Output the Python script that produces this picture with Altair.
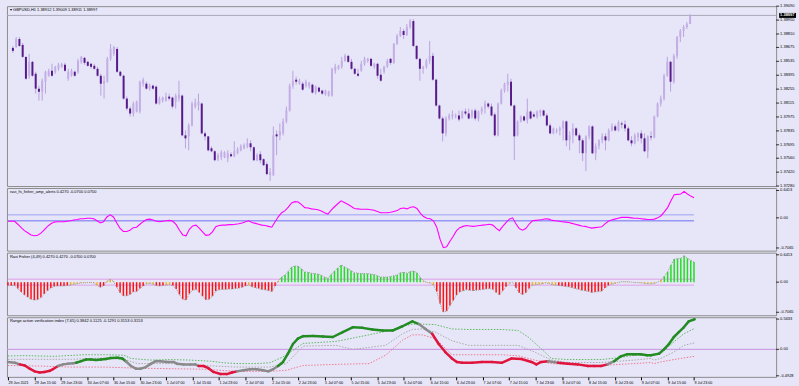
import altair as alt
import pandas as pd

# ---------------- data: GBPUSD H1 candles ----------------
o_ = [1.3867,1.3868,1.3876,1.3870,1.3858,1.3839,1.3853,1.3841,1.3826,1.3823,
1.3833,1.3839,1.3844,1.3843,1.3846,1.3848,1.3850,1.3836,1.3839,1.3843,
1.3843,1.3853,1.3857,1.3853,1.3851,1.3849,1.3846,1.3839,1.3831,1.3833,
1.3856,1.3861,1.3866,1.3843,1.3839,1.3816,1.3806,1.3801,1.3803,1.3803,
1.3831,1.3831,1.3826,1.3829,1.3828,1.3811,1.3814,1.3814,1.3818,1.3817,
1.3813,1.3816,1.3819,1.3779,1.3778,1.3789,1.3808,1.3809,1.3811,1.3781,
1.3778,1.3766,1.3763,1.3755,1.3757,1.3757,1.3756,1.3760,1.3758,1.3761,
1.3764,1.3766,1.3768,1.3771,1.3767,1.3754,1.3760,1.3755,1.3750,1.3739,
1.3739,1.3780,1.3779,1.3781,1.3793,1.3804,1.3829,1.3835,1.3831,1.3831,
1.3829,1.3828,1.3830,1.3822,1.3827,1.3824,1.3820,1.3819,1.3819,1.3844,
1.3846,1.3848,1.3854,1.3859,1.3853,1.3846,1.3841,1.3844,1.3851,1.3854,
1.3856,1.3848,1.3851,1.3840,1.3843,1.3848,1.3856,1.3852,1.3871,1.3879,
1.3884,1.3880,1.3888,1.3894,1.3869,1.3856,1.3846,1.3848,1.3854,1.3859,
1.3835,1.3809,1.3796,1.3781,1.3796,1.3798,1.3798,1.3799,1.3796,1.3803,
1.3801,1.3798,1.3804,1.3796,1.3803,1.3806,1.3811,1.3808,1.3800,1.3779,
1.3811,1.3824,1.3830,1.3833,1.3809,1.3779,1.3793,1.3798,1.3794,1.3803,
1.3800,1.3798,1.3802,1.3804,1.3799,1.3789,1.3781,1.3783,1.3784,1.3786,
1.3793,1.3774,1.3779,1.3786,1.3779,1.3774,1.3761,1.3778,1.3788,1.3761,
1.3768,1.3774,1.3778,1.3774,1.3784,1.3788,1.3784,1.3791,1.3790,1.3786,
1.3774,1.3771,1.3777,1.3781,1.3776,1.3763,1.3778,1.3777,1.3798,1.3811,
1.3816,1.3839,1.3853,1.3833,1.3859,1.3878,1.3884,1.3888,1.38912]
h_ = [1.3869,1.3878,1.3878,1.3872,1.3858,1.3861,1.3854,1.3843,1.3829,1.3836,
1.3844,1.3846,1.3851,1.3849,1.3852,1.3852,1.3852,1.3846,1.3846,1.3844,
1.3856,1.3859,1.3858,1.3854,1.3852,1.3851,1.3848,1.3841,1.3839,1.3858,
1.3871,1.3869,1.3868,1.3844,1.3840,1.3818,1.3808,1.3813,1.3814,1.3834,
1.3837,1.3833,1.3831,1.3830,1.3829,1.3818,1.3818,1.3822,1.3821,1.3818,
1.3821,1.3834,1.3820,1.3784,1.3791,1.3813,1.3816,1.3821,1.3812,1.3783,
1.3778,1.3768,1.3764,1.3761,1.3764,1.3763,1.3764,1.3762,1.3773,1.3767,
1.3770,1.3771,1.3776,1.3774,1.3768,1.3761,1.3763,1.3756,1.3752,1.3746,
1.3788,1.3784,1.3791,1.3796,1.3808,1.3831,1.3844,1.3838,1.3836,1.3833,
1.3835,1.3833,1.3831,1.3829,1.3828,1.3825,1.3825,1.3824,1.3847,1.3851,
1.3850,1.3858,1.3861,1.3860,1.3856,1.3847,1.3846,1.3854,1.3858,1.3857,
1.3857,1.3852,1.3852,1.3846,1.3849,1.3856,1.3857,1.3872,1.3881,1.3888,
1.3886,1.3891,1.3896,1.3896,1.3870,1.3857,1.3849,1.3856,1.3874,1.3862,
1.3836,1.3810,1.3798,1.3798,1.3801,1.3804,1.3801,1.3804,1.3804,1.3806,
1.3806,1.3805,1.3806,1.3804,1.3808,1.3814,1.3812,1.3811,1.3802,1.3812,
1.3826,1.3832,1.3841,1.3836,1.3810,1.3794,1.3799,1.3799,1.3816,1.3804,
1.3802,1.3804,1.3805,1.3805,1.3801,1.3791,1.3787,1.3786,1.3788,1.3794,
1.3794,1.3783,1.3791,1.3787,1.3781,1.3776,1.3779,1.3789,1.3789,1.3771,
1.3775,1.3781,1.3781,1.3786,1.3791,1.3790,1.3794,1.3793,1.3794,1.3788,
1.3778,1.3781,1.3782,1.3784,1.3781,1.3779,1.3783,1.3799,1.3812,1.3819,
1.3841,1.3858,1.3854,1.3861,1.3879,1.3886,1.3890,1.3893,1.39009]
l_ = [1.3862,1.3867,1.3868,1.3857,1.3835,1.3836,1.3838,1.3821,1.3814,1.3814,
1.3821,1.3838,1.3838,1.3841,1.3844,1.3847,1.3843,1.3834,1.3838,1.3838,
1.3841,1.3851,1.3850,1.3848,1.3846,1.3845,1.3838,1.3819,1.3816,1.3832,
1.3854,1.3859,1.3842,1.3838,1.3815,1.3804,1.3798,1.3798,1.3802,1.3801,
1.3828,1.3825,1.3824,1.3825,1.3810,1.3810,1.3812,1.3813,1.3814,1.3806,
1.3806,1.3813,1.3778,1.3766,1.3764,1.3788,1.3806,1.3804,1.3780,1.3774,
1.3763,1.3762,1.3753,1.3753,1.3754,1.3756,1.3752,1.3757,1.3757,1.3760,
1.3763,1.3765,1.3766,1.3763,1.3753,1.3753,1.3751,1.3748,1.3739,1.3733,
1.3738,1.3759,1.3774,1.3779,1.3791,1.3803,1.3826,1.3830,1.3830,1.3824,
1.3827,1.3826,1.3821,1.3820,1.3822,1.3820,1.3819,1.3818,1.3818,1.3841,
1.3845,1.3846,1.3853,1.3852,1.3845,1.3840,1.3838,1.3843,1.3849,1.3852,
1.3848,1.3846,1.3836,1.3833,1.3841,1.3847,1.3850,1.3851,1.3870,1.3878,
1.3876,1.3879,1.3886,1.3868,1.3855,1.3834,1.3841,1.3846,1.3851,1.3834,
1.3808,1.3795,1.3773,1.3778,1.3794,1.3795,1.3796,1.3793,1.3796,1.3799,
1.3795,1.3796,1.3794,1.3793,1.3800,1.3801,1.3806,1.3798,1.3778,1.3778,
1.3810,1.3822,1.3823,1.3808,1.3754,1.3778,1.3792,1.3793,1.3791,1.3795,
1.3797,1.3796,1.3798,1.3798,1.3788,1.3780,1.3780,1.3781,1.3779,1.3774,
1.3768,1.3764,1.3771,1.3778,1.3761,1.3753,1.3743,1.3775,1.3760,1.3754,
1.3765,1.3771,1.3764,1.3773,1.3783,1.3783,1.3783,1.3786,1.3783,1.3773,
1.3768,1.3770,1.3773,1.3771,1.3762,1.3756,1.3774,1.3776,1.3797,1.3808,
1.3814,1.3838,1.3823,1.3831,1.3856,1.3873,1.3878,1.3886,1.38911]
c_ = [1.3864,1.3876,1.3869,1.3858,1.3836,1.3853,1.3839,1.3826,1.3823,1.3834,
1.3843,1.3844,1.3839,1.3848,1.3850,1.3851,1.3844,1.3843,1.3844,1.3839,
1.3854,1.3858,1.3852,1.3849,1.3848,1.3846,1.3839,1.3831,1.3834,1.3856,
1.3866,1.3868,1.3843,1.3839,1.3816,1.3806,1.3801,1.3811,1.3813,1.3833,
1.3835,1.3826,1.3829,1.3826,1.3811,1.3816,1.3817,1.3818,1.3816,1.3808,
1.3819,1.3820,1.3779,1.3776,1.3789,1.3811,1.3812,1.3813,1.3781,1.3778,
1.3764,1.3763,1.3754,1.3759,1.3762,1.3762,1.3761,1.3758,1.3763,1.3765,
1.3768,1.3769,1.3771,1.3767,1.3754,1.3759,1.3754,1.3749,1.3740,1.3742,
1.3779,1.3778,1.3783,1.3793,1.3804,1.3829,1.3834,1.3833,1.3834,1.3825,
1.3833,1.3832,1.3822,1.3828,1.3823,1.3821,1.3824,1.3823,1.3846,1.3848,
1.3849,1.3854,1.3859,1.3853,1.3846,1.3841,1.3839,1.3851,1.3856,1.3856,
1.3849,1.3851,1.3839,1.3834,1.3848,1.3854,1.3852,1.3871,1.3879,1.3884,
1.3880,1.3888,1.3894,1.3869,1.3856,1.3846,1.3848,1.3854,1.3859,1.3835,
1.3809,1.3796,1.3781,1.3796,1.3799,1.3800,1.3799,1.3795,1.3803,1.3801,
1.3796,1.3804,1.3796,1.3803,1.3806,1.3811,1.3808,1.3799,1.3779,1.3811,
1.3824,1.3831,1.3833,1.3809,1.3778,1.3793,1.3798,1.3794,1.3803,1.3796,
1.3798,1.3803,1.3804,1.3799,1.3789,1.3781,1.3786,1.3784,1.3786,1.3793,
1.3774,1.3779,1.3786,1.3779,1.3774,1.3761,1.3778,1.3788,1.3761,1.3768,
1.3774,1.3778,1.3774,1.3784,1.3788,1.3784,1.3792,1.3790,1.3786,1.3774,
1.3771,1.3779,1.3781,1.3776,1.3763,1.3778,1.3777,1.3798,1.3811,1.3816,
1.3839,1.3853,1.3833,1.3859,1.3878,1.3884,1.3888,1.3891,1.38997]

fisher = [-0.08,-0.08,-0.08,-0.15,-0.23,-0.30,-0.35,-0.40,-0.42,-0.41,
-0.36,-0.28,-0.20,-0.14,-0.10,-0.09,-0.09,-0.09,-0.08,-0.07,
-0.05,-0.04,-0.02,-0.02,-0.01,-0.01,-0.02,-0.07,-0.12,-0.09,
0.02,0.07,0.02,-0.12,-0.25,-0.32,-0.32,-0.29,-0.23,-0.22,
-0.15,-0.09,-0.04,-0.03,-0.05,-0.08,-0.09,-0.08,-0.07,-0.06,
-0.08,-0.16,-0.29,-0.40,-0.42,-0.27,-0.19,-0.17,-0.24,-0.33,
-0.41,-0.40,-0.33,-0.21,-0.18,-0.17,-0.17,-0.16,-0.16,-0.15,
-0.14,-0.12,-0.09,-0.07,-0.11,-0.13,-0.15,-0.17,-0.18,-0.20,
-0.22,-0.09,0.03,0.12,0.17,0.25,0.35,0.38,0.37,0.31,
0.24,0.23,0.21,0.20,0.19,0.16,0.12,0.09,0.18,0.26,
0.33,0.40,0.36,0.32,0.27,0.22,0.21,0.20,0.20,0.20,
0.19,0.18,0.15,0.12,0.12,0.12,0.13,0.15,0.17,0.22,
0.23,0.21,0.25,0.26,0.22,0.11,0.03,-0.01,-0.02,-0.07,
-0.22,-0.50,-0.70,-0.68,-0.55,-0.43,-0.30,-0.23,-0.20,-0.18,
-0.19,-0.20,-0.19,-0.18,-0.17,-0.16,-0.15,-0.17,-0.24,-0.30,
-0.20,-0.11,-0.03,0.00,-0.14,-0.25,-0.29,-0.25,-0.15,-0.07,
-0.06,-0.05,-0.04,-0.02,-0.03,-0.06,-0.07,-0.08,-0.09,-0.10,
-0.11,-0.13,-0.15,-0.17,-0.19,-0.20,-0.22,-0.24,-0.23,-0.22,
-0.21,-0.14,-0.08,-0.05,-0.03,-0.01,0.01,0.01,0.01,0.00,
-0.01,-0.01,-0.02,-0.03,-0.04,-0.04,-0.03,0.00,0.05,0.14,
0.24,0.40,0.54,0.55,0.56,0.62,0.56,0.51,0.47]

# Range action verification index: thick line knots (bar index, value, state)
rav_x = [0,2.1,3.6,5.1,6.6,8.1,9.6,11.1,12.7,13.6,15.2,16.7,18.2,19.7,20.7,22.2,23.7,25.2,26.7,28.2,
29.7,31.2,33.2,34.7,35.7,37.3,38.8,40.3,41.8,43.3,44.8,46.3,48.3,50.3,51.3,53.3,55.3,56.8,57.8,59.3,
60.8,62.3,64.4,66.4,67.9,69.4,71.4,73.4,75.4,77.4,78.9,80.4,81.9,83.4,84.9,86.4,87.9,89.5,92.5,95.5,
98.5,101.5,104.5,107.5,110.5,113.6,116.6,119.6,122.6,124.6,126.6,128.6,130.6,132.6,134.6,136.1,137.7,140.7,143.7,146.7,
149.7,152.7,155.7,158.7,160.2,161.7,163.8,166.8,169.8,172.8,175.8,177.8,179.8,181.8,183.8,185.8,187.8,189.8,191.8,193.8,
194.9,197.4,198.9,200.4,201.9,203.4,204.9,206.4,208.2]
rav_v = [-0.235,-0.25,-0.28,-0.30,-0.36,-0.41,-0.43,-0.42,-0.40,-0.37,-0.31,-0.28,-0.27,-0.26,-0.25,-0.22,-0.19,-0.19,-0.20,-0.19,
-0.18,-0.16,-0.155,-0.17,-0.22,-0.31,-0.36,-0.36,-0.33,-0.27,-0.22,-0.22,-0.235,-0.235,-0.27,-0.28,-0.28,-0.28,-0.31,-0.31,
-0.35,-0.42,-0.46,-0.46,-0.43,-0.41,-0.39,-0.37,-0.37,-0.39,-0.41,-0.37,-0.31,-0.235,-0.08,0.10,0.20,0.246,0.25,0.24,
0.23,0.32,0.41,0.40,0.37,0.35,0.35,0.43,0.52,0.47,0.38,0.29,0.10,-0.05,-0.17,-0.235,-0.25,-0.25,-0.235,-0.235,
-0.25,-0.17,-0.18,-0.235,-0.28,-0.235,-0.22,-0.25,-0.27,-0.28,-0.31,-0.31,-0.31,-0.28,-0.22,-0.13,-0.09,-0.09,-0.09,-0.11,
-0.11,-0.08,0.00,0.10,0.23,0.32,0.41,0.52,0.56]
rav_state = ["n","n","r","r","r","r","r","r","r","r","n","n","n","n","g","g","g","g","g","g",
"g","g","g","g","n","n","n","n","n","n","n","n","n","n","n","n","n","n","r","r",
"r","r","r","r","r","n","n","n","n","n","n","n","g","g","g","g","g","g","g","g",
"g","g","g","g","g","g","g","g","g","n","n","r","r","r","r","r","r","r","r","r",
"r","r","r","r","r","r","n","r","r","r","r","r","r","n","g","g","g","g","g","g",
"g","g","g","g","g","g","g","g","g"]

up_x = [0,5.1,14.2,23.2,29.2,35.2,37.3,43.3,49.3,55.3,61.4,65.4,69.4,75.4,79.4,83.4,86.4,89.5,99.5,109.5,
115.6,119.6,122.6,125.6,129.6,134.6,139.7,149.7,154.7,157.7,161.7,164.8,169.8,179.8,184.8,189.8,194.9,195.9,197.9,201.9,
204.9,208.2]
up_v = [-0.124,-0.117,-0.13,-0.10,-0.10,-0.11,-0.17,-0.20,-0.19,-0.20,-0.22,-0.25,-0.265,-0.265,-0.25,-0.14,-0.02,0.11,0.148,0.27,
0.35,0.43,0.47,0.47,0.46,0.38,0.37,0.37,0.35,0.23,0.01,-0.17,-0.19,-0.19,-0.16,-0.11,-0.10,-0.11,-0.08,0.14,
0.29,0.39]
mid_x = [0,9.1,19.2,29.2,35.2,39.3,49.3,59.3,69.4,79.4,84.4,89.5,99.5,104.5,114.5,119.6,122.6,125.6,129.6,134.6,
139.7,154.7,159.7,164.8,169.8,179.8,189.8,194.9,195.9,197.9,201.9,204.9,208.2]
mid_v = [-0.185,-0.185,-0.185,-0.16,-0.185,-0.265,-0.265,-0.30,-0.33,-0.33,-0.265,0.06,0.074,0.0,0.074,0.29,0.37,0.38,0.32,0.16,
0.074,0.074,-0.05,-0.20,-0.245,-0.245,-0.20,-0.17,-0.20,-0.17,-0.05,0.074,0.12]
lo_x = [0,9.1,19.2,29.2,39.3,49.3,59.3,69.4,79.4,84.4,89.5,99.5,109.5,114.5,119.6,122.6,125.6,129.6,134.6,139.7,
149.7,154.7,159.7,164.8,169.8,179.8,189.8,194.9,195.9,197.9,201.9,204.9,208.2]
lo_v = [-0.30,-0.31,-0.33,-0.33,-0.35,-0.36,-0.37,-0.41,-0.41,-0.39,-0.30,-0.28,-0.265,-0.11,0.17,0.27,0.27,0.20,-0.10,-0.10,
-0.10,-0.12,-0.20,-0.265,-0.28,-0.30,-0.265,-0.245,-0.265,-0.235,-0.19,-0.16,-0.13]

date_labels = ["29 Jun 2021","29 Jun 15:00","29 Jun 23:00","30 Jun 07:00","30 Jun 15:00","30 Jun 23:00",
"1 Jul 07:00","1 Jul 15:00","1 Jul 23:00","2 Jul 07:00","2 Jul 15:00","2 Jul 23:00",
"5 Jul 07:00","5 Jul 15:00","5 Jul 23:00","6 Jul 07:00","6 Jul 15:00","6 Jul 23:00",
"7 Jul 07:00","7 Jul 15:00","7 Jul 23:00","8 Jul 07:00","8 Jul 15:00","8 Jul 23:00",
"9 Jul 07:00","9 Jul 15:00","9 Jul 23:00"]
price_ticks = [1.39090,1.38950,1.38810,1.38675,1.38535,1.38395,1.38255,1.38115,1.37975,1.37835,1.37695,1.37560,1.37420,1.37280]
fisher_ticks = [0.6413, 0.0, -0.7065]
rav_ticks = [0.5633, 0.0, -0.4928]
bid = 1.38997
fisher_level = 0.07
title_main = "\u25be GBPUSD,H1  1.38912 1.39009 1.38911 1.38997"
title_1 = "ravi_fs_fisher_amp_alerts 0.4270 -0.0700 0.0700"
title_2 = "Ravi Fisher (4,49) 0.4270 0.4270 -0.0700 0.0700"
title_3 = "Range action verification index (7,65) 0.3842 0.1125 -0.1291 0.3153 0.3153"

# ---------------- frames ----------------
N = len(c_)
candles = pd.DataFrame({"i": range(N), "o": o_, "h": h_, "l": l_, "c": c_})
candles["bull"] = candles["c"] >= candles["o"]
fdf = pd.DataFrame({"i": range(N), "v": fisher})
segs = []
for k in range(len(rav_x) - 1):
    segs.append({"seg": k, "x": rav_x[k], "v": rav_v[k], "s": rav_state[k]})
    segs.append({"seg": k, "x": rav_x[k + 1], "v": rav_v[k + 1], "s": rav_state[k]})
segdf = pd.DataFrame(segs)
dots = pd.concat([
    pd.DataFrame({"x": up_x, "v": up_v, "k": "up"}),
    pd.DataFrame({"x": mid_x, "v": mid_v, "k": "mid"}),
    pd.DataFrame({"x": lo_x, "v": lo_v, "k": "lo"}),
])

W = 774
FONT = "Liberation Sans"
FS = 4
FSX = 3.7
BG = "#E6E6F8"
xs = alt.Scale(domain=[-0.3, 232.9], nice=False, zero=False)
X = alt.X("i:Q", scale=xs, axis=None)
HIDDEN_Y = alt.Axis(orient="right", labels=False, ticks=False, domain=False, grid=False, title=None)


def ind_fmt(v):
    return "0.00" if v == 0 else "%.4f" % v


def right_axis(vals, scale, fmt):
    d = pd.DataFrame({"v": vals, "t": [fmt(v) for v in vals]})
    ticks = alt.Chart(d).mark_rule(color="#000000", strokeWidth=0.8, clip=False).encode(
        y=alt.Y("v:Q", scale=scale, axis=HIDDEN_Y), x=alt.value(W), x2=alt.value(W + 3))
    labels = alt.Chart(d).mark_text(align="left", baseline="middle", fontSize=FS, font=FONT,
                                    color="#000000", clip=False).encode(
        y=alt.Y("v:Q", scale=scale, axis=HIDDEN_Y), x=alt.value(W + 4), text="t:N")
    return [ticks, labels]


def title_text(t):
    return alt.Chart(pd.DataFrame({"t": [t]})).mark_text(
        align="left", baseline="middle", fontSize=FS, font=FONT, color="#000000"
    ).encode(x=alt.value(3), y=alt.value(4), text="t:N")


# main panel
ys = alt.Scale(domain=[1.3728, 1.3909], nice=False, zero=False)
base = alt.Chart(candles)
wicks = base.mark_rule(strokeWidth=1, color="#B9A2DE").encode(
    x=X, y=alt.Y("l:Q", scale=ys, axis=HIDDEN_Y), y2="h:Q")
bodies = base.mark_bar(size=2).encode(
    x=X, y=alt.Y("o:Q", scale=ys, axis=HIDDEN_Y), y2="c:Q",
    color=alt.condition("datum.bull", alt.value("#C3AEE6"), alt.value("#561A8A")),
)
biddf = pd.DataFrame({"b": [bid], "t": ["%.5f" % bid]})
bidline = alt.Chart(biddf).mark_rule(color="#A8A8B8", strokeWidth=1).encode(
    y=alt.Y("b:Q", scale=ys, axis=HIDDEN_Y), x=alt.value(0), x2=alt.value(W))
bidbg = alt.Chart(biddf).mark_rule(color="#000000", strokeWidth=5, clip=False).encode(
    y=alt.Y("b:Q", scale=ys, axis=HIDDEN_Y), x=alt.value(W + 3), x2=alt.value(W + 20))
bidtxt = alt.Chart(biddf).mark_text(
    align="left", baseline="middle", fontSize=FS, font=FONT, color="#FFFFFF", fontWeight="bold",
    clip=False).encode(y=alt.Y("b:Q", scale=ys, axis=HIDDEN_Y), x=alt.value(W + 4), text="t:N")
main = alt.layer(bidline, wicks, bodies, *right_axis(price_ticks, ys, lambda v: "%.5f" % v),
                 bidbg, bidtxt, title_text(title_main)).properties(width=W, height=181)

# indicator 1
ys1 = alt.Scale(domain=[-0.769, 0.699], nice=False, zero=False)
lv = pd.DataFrame({"lv": [fisher_level, -fisher_level], "c": ["u", "d"], "x0": [0, 0], "x1": [N - 1, N - 1]})
lines1 = alt.Chart(lv).mark_rule(strokeWidth=1).encode(
    y=alt.Y("lv:Q", scale=ys1, axis=HIDDEN_Y), x=alt.X("x0:Q", scale=xs, axis=None), x2="x1:Q",
    color=alt.Color("c:N", scale=alt.Scale(domain=["u", "d"], range=["#A0A0F4", "#6E6EF2"]), legend=None))
fline = alt.Chart(fdf).mark_line(color="#FF00FF", strokeWidth=1.1).encode(
    x=X, y=alt.Y("v:Q", scale=ys1, axis=HIDDEN_Y))
ind1 = alt.layer(lines1, fline, *right_axis(fisher_ticks, ys1, ind_fmt),
                 title_text(title_1)).properties(width=W, height=63)

# indicator 2
ys2 = alt.Scale(domain=[-0.776, 0.692], nice=False, zero=False)
lines2 = alt.Chart(lv).mark_rule(strokeWidth=1, color="#E0A0E8").encode(
    y=alt.Y("lv:Q", scale=ys2, axis=HIDDEN_Y), x=alt.X("x0:Q", scale=xs, axis=None), x2="x1:Q")
hist = alt.Chart(fdf).transform_calculate(
    k="datum.v > 0.07 ? 'up' : (datum.v < -0.07 ? 'dn' : 'mid')", z="0"
).mark_rule(strokeWidth=1.5).encode(
    x=X, y=alt.Y("v:Q", scale=ys2, axis=HIDDEN_Y), y2="z:Q",
    color=alt.Color("k:N", scale=alt.Scale(domain=["up", "dn", "mid"], range=["#22DD22", "#FF1010", "#E8B020"]), legend=None))
outline = alt.Chart(fdf).mark_line(color="#9A9A9A", strokeWidth=1, strokeDash=[1, 1]).encode(
    x=X, y=alt.Y("v:Q", scale=ys2, axis=HIDDEN_Y))
ind2 = alt.layer(lines2, hist, outline, *right_axis(fisher_ticks, ys2, ind_fmt),
                 title_text(title_2)).properties(width=W, height=63)

# indicator 3
ys3 = alt.Scale(domain=[-0.512, 0.598], nice=False, zero=False)
zero3 = alt.Chart(pd.DataFrame({"z": [0.0]})).mark_rule(color="#C890E0", strokeWidth=1).encode(
    y=alt.Y("z:Q", scale=ys3, axis=HIDDEN_Y), x=alt.value(0), x2=alt.value(W))
xaxis = alt.Axis(values=list(range(0, 209, 8)),
                 labelExpr="%s[round(datum.value / 8)]" % str(date_labels), labelFontSize=FSX, labelFont=FONT,
                 labelColor="#000000", labelAlign="left", tickSize=3, tickColor="#000000", domain=False,
                 grid=False, title=None, labelPadding=1, labelOverlap=False, labelFlush=False)
dotl = alt.Chart(dots).mark_line(strokeWidth=1, strokeDash=[1.5, 1.5]).encode(
    x=alt.X("x:Q", scale=xs, axis=xaxis),
    y=alt.Y("v:Q", scale=ys3, axis=HIDDEN_Y),
    detail="k:N",
    color=alt.Color("k:N", scale=alt.Scale(domain=["up", "mid", "lo"], range=["#5CB85C", "#A8A8A8", "#F07890"]), legend=None))
thick = alt.Chart(segdf).mark_line(strokeWidth=2.5, strokeCap="round").encode(
    x=alt.X("x:Q", scale=xs, axis=xaxis), y=alt.Y("v:Q", scale=ys3, axis=HIDDEN_Y), detail="seg:N",
    color=alt.Color("s:N", scale=alt.Scale(domain=["g", "r", "n"], range=["#228B22", "#E0143C", "#8A8A8A"]), legend=None))
ind3 = alt.layer(zero3, dotl, thick, *right_axis(rav_ticks, ys3, ind_fmt),
                 title_text(title_3)).resolve_scale(color="independent").properties(width=W, height=60)

chart = alt.vconcat(main, ind1, ind2, ind3, spacing=2, bounds="flush").resolve_scale(color="independent").properties(
    background=BG, padding={"left": 2, "top": 2, "right": 0, "bottom": 0}
).configure_view(stroke="#8C8C8C", strokeWidth=1, fill=BG)

chart.save("out.html", embed_options={"renderer": "svg", "actions": False})
